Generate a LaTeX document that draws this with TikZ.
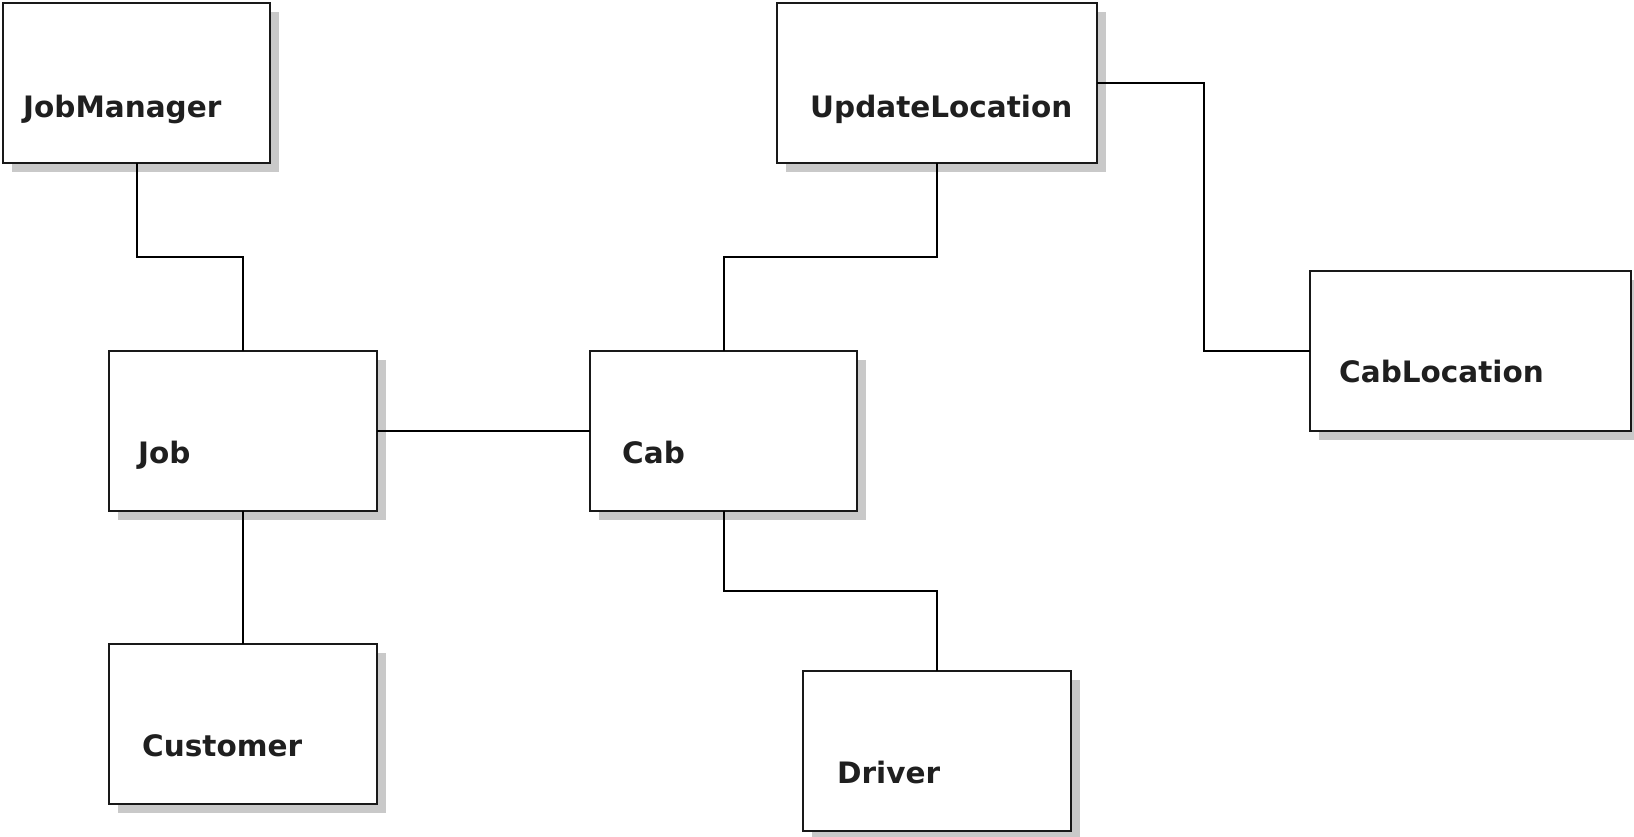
\documentclass[tikz,border=0pt]{standalone}
\usepackage{fontspec}
\newfontfamily\lblfont{DejaVu Sans}
\usetikzlibrary{calc,shadows}
\tikzset{
  box/.style={draw=black!90, line width=2pt, fill=white, rectangle, inner sep=0pt, outer sep=0pt,
    minimum width=#1, minimum height=160,
    general shadow={fill=black!21, shadow xshift=9pt, shadow yshift=-9pt}},
  box/.default=268,
  lbl/.style={font=\lblfont\bfseries\fontsize{29.5}{32}\selectfont, text=black!88, anchor=base west, inner sep=0pt},
  conn/.style={draw=black, line width=2pt}
}
\begin{document}
\begin{tikzpicture}[x=1pt,y=-1pt]
\useasboundingbox (0,0) rectangle (1634,836);
% boxes
\node[box=267] (jm) at (136.5,83) {};
\node[box=320] (ul) at (937,83) {};
\node[box=321] (cl) at (1470.5,350.5) {};
\node[box=268] (job) at (243,430.5) {};
\node[box=267] (cab) at (723.5,430.5) {};
\node[box=268] (cust) at (243,723.5) {};
\node[box=268] (drv) at (937,750.5) {};
% labels
\node[lbl] (jmt) at ($(jm.north west)+(20,114)$) {JobManager};
\node[lbl] (ult) at ($(ul.north west)+(33,114)$) {UpdateLocation};
\node[lbl] (clt) at ($(cl.north west)+(29,112)$) {CabLocation};
\node[lbl] (jobt) at ($(job.north west)+(29,113)$) {Job};
\node[lbl] (cabt) at ($(cab.north west)+(32,113)$) {Cab};
\node[lbl] (custt) at ($(cust.north west)+(33,113)$) {Customer};
\node[lbl] (drvt) at ($(drv.north west)+(34,113)$) {Driver};
% connectors
\draw[conn] (jm.south) |- ($(jm.south)!0.5!(job.north)$) -| (job.north);
\draw[conn] (job.east) -- (cab.west);
\draw[conn] (job.south) -- (cust.north);
\draw[conn] (cab.north) |- ($(cab.north)!0.5!(ul.south)$) -| (ul.south);
\draw[conn] (cab.south) |- ($(cab.south)!0.5!(drv.north)$) -| (drv.north);
\draw[conn] (ul.east) -| ($(ul.east)!0.5!(cl.west)$) |- (cl.west);
\end{tikzpicture}
\end{document}
